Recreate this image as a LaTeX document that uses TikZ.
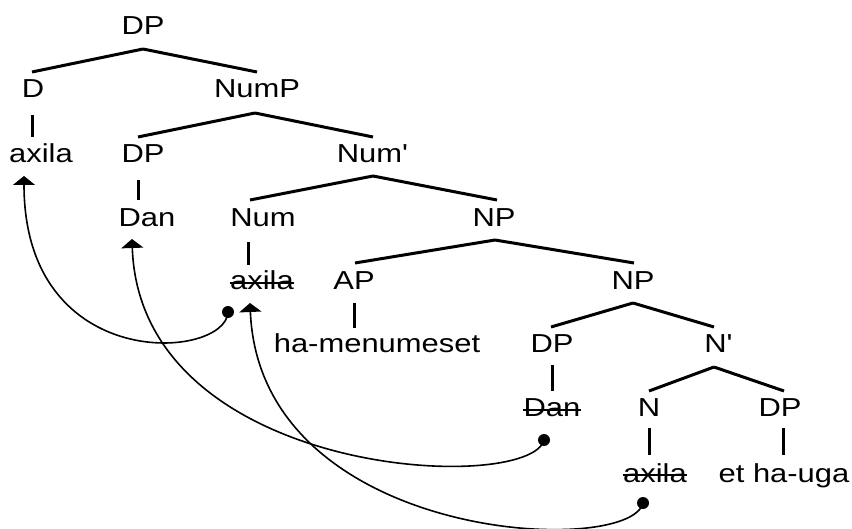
\documentclass[tikz,border=0pt]{standalone}
\usepackage{fontspec}
\setmainfont{Liberation Sans}[FakeStretch=1.19]
\usetikzlibrary{calc,arrows.meta}
\tikzset{
  lbl/.style={anchor=base,inner sep=0pt,font=\fontsize{26}{30}\selectfont},
  tree/.style={line width=3pt},
  strk/.style={line width=2pt},
  mv/.style={line width=1.6pt,-{Triangle[width=22pt,length=9pt]}},
  dot/.style={circle,fill=black,inner sep=0pt,minimum size=12pt}
}
\newcommand{\treeedge}[4]{\draw[tree] ($(#1.base)+(#2)$) -- ($(#3.base)+(#4)$);}
\newcommand{\strikeout}[1]{\draw[strk] ([yshift=7pt]#1.base west) -- ([yshift=7pt]#1.base east);}
\begin{document}
\begin{tikzpicture}[x=1pt,y=-1pt]
\useasboundingbox (0,0) rectangle (852,529);
% labels
\node[lbl] (DP0) at (143,35) {DP};
\node[lbl] (D) at (33,98) {D};
\node[lbl] (NumP) at (257,98) {NumP};
\node[lbl] (axA) at (41,163) {axila};
\node[lbl] (DP1) at (143,163) {DP};
\node[lbl] (NumB) at (372,163) {Num\textquotesingle};
\node[lbl] (Dan) at (147,227) {Dan};
\node[lbl] (Num) at (263,227) {Num};
\node[lbl] (NP1) at (494,227) {NP};
\node[lbl] (axS) at (262,290) {axila};
\node[lbl] (AP) at (354,290) {AP};
\node[lbl] (NP2) at (633,290) {NP};
\node[lbl] (ham) at (377,353) {ha-menumeset};
\node[lbl] (DP2) at (552,353) {DP};
\node[lbl] (Nb) at (718,353) {N\textquotesingle};
\node[lbl] (DanS) at (552,417) {Dan};
\node[lbl] (N) at (649,417) {N};
\node[lbl] (DP3) at (780,417) {DP};
\node[lbl] (axS2) at (655,482) {axila};
\node[lbl] (etha) at (784,482) {et ha-uga};
\strikeout{axS}
\strikeout{DanS}
\strikeout{axS2}
% tree branches
\treeedge{DP0}{0,14}{D}{-1,-26}
\treeedge{DP0}{0,14}{NumP}{0,-26}
\treeedge{NumP}{-2,15}{DP1}{-5,-26}
\treeedge{NumP}{-2,15}{NumB}{1,-26}
\treeedge{NumB}{1,13}{Num}{-13,-27}
\treeedge{NumB}{1,13}{NP1}{3,-27}
\treeedge{NP1}{1,13}{AP}{1,-27}
\treeedge{NP1}{1,13}{NP2}{1,-27}
\treeedge{NP2}{0,13}{DP2}{-1,-26}
\treeedge{NP2}{0,13}{Nb}{-4,-26}
\treeedge{Nb}{-4,14}{N}{0,-26}
\treeedge{Nb}{-4,14}{DP3}{4,-26}
% unary lines
\treeedge{D}{-1,17}{axA}{-9,-26}
\treeedge{DP1}{-5,17}{Dan}{-9,-27}
\treeedge{Num}{-15,15}{axS}{-14,-25}
\treeedge{AP}{0,13}{ham}{-23,-25}
\treeedge{DP2}{0,12}{DanS}{0,-26}
\treeedge{N}{0,11}{axS2}{-6,-27}
\treeedge{DP3}{3,11}{etha}{-1,-27}
% movement
\coordinate (t1) at ($(axA.base)+(-17,13)$);
\coordinate (t2) at ($(Dan.base)+(-15,12)$);
\coordinate (t3) at ($(axS.base)+(-12,13)$);
\node[dot] (b1) at ($(axS.base)+(-34,22)$) {};
\node[dot] (b2) at ($(DanS.base)+(-8,23)$) {};
\node[dot] (b3) at ($(axS2.base)+(-12,21)$) {};
\draw[mv] (b1.center) .. controls +(-2,48) and +(0,199) .. (t1);
\draw[mv] (b2.center) .. controls +(-14,55) and +(8,240) .. (t2);
\draw[mv] (b3.center) .. controls +(-13,55) and +(10,240) .. (t3);
\end{tikzpicture}
\end{document}
